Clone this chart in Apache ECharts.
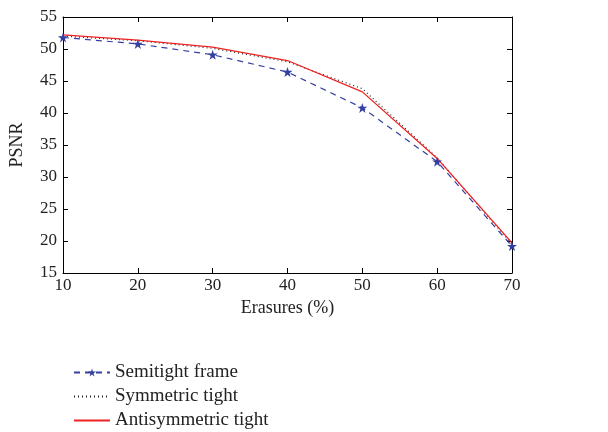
<!DOCTYPE html>
<html><head><meta charset="utf-8">
<script src="https://cdn.jsdelivr.net/npm/echarts@6/dist/echarts.min.js"></script>
<style>html,body{margin:0;padding:0;background:#fff}#c{width:608px;height:432px}</style>
</head><body><div id="c"></div>
<script>
const erasures = [10, 20, 30, 40, 50, 60, 70];
const semitight = [51.8, 50.8, 49.1, 46.4, 40.8, 32.4, 19.2];
const symmetric = [52.0, 51.3, 50.1, 48.0, 43.8, 33.0, 19.5];
const antisymmetric = [52.2, 51.4, 50.3, 48.2, 43.3, 32.9, 19.7];
const xTicks = {min: 10, max: 70, interval: 10};
const yTicks = {min: 15, max: 55, interval: 5};

const star = 'path://M50,0 L61.8,35.1 L98.9,35.1 L69,57 L80.3,92.3 L50,70.5 L19.7,92.3 L31,57 L1.1,35.1 L38.2,35.1 Z';
const font = 'Liberation Serif';
const pair = (xs, ys) => xs.map((x, i) => [x, ys[i]]);

const chart = echarts.init(document.getElementById('c'), null, {renderer: 'canvas'});
const axisCommon = {
  axisLine: {show: true, onZero: false, lineStyle: {color: '#000', width: 1}},
  axisTick: {show: true, inside: true, length: 5, lineStyle: {color: '#000'}},
  splitLine: {show: false}
};
chart.setOption({
  animation: false,
  textStyle: {fontFamily: font},
  grid: {left: 62, right: 96, top: 17, height: 256},
  xAxis: [
    Object.assign({type: 'value', position: 'bottom', min: xTicks.min, max: xTicks.max, interval: xTicks.interval,
      name: 'Erasures (%)', nameLocation: 'middle', nameGap: 24,
      nameTextStyle: {fontFamily: font, fontSize: 18, color: '#222'},
      axisLabel: {fontFamily: font, fontSize: 17, color: '#222', margin: 4}}, axisCommon),
    Object.assign({type: 'value', position: 'top', min: xTicks.min, max: xTicks.max, interval: xTicks.interval,
      axisLabel: {show: false}}, axisCommon)
  ],
  yAxis: [
    Object.assign({type: 'value', position: 'left', min: yTicks.min, max: yTicks.max, interval: yTicks.interval,
      name: 'PSNR', nameLocation: 'middle', nameGap: 37, nameRotate: 90,
      nameTextStyle: {fontFamily: font, fontSize: 18, color: '#222'},
      axisLabel: {fontFamily: font, fontSize: 17, color: '#222', margin: 6}}, axisCommon),
    Object.assign({type: 'value', position: 'right', min: yTicks.min, max: yTicks.max, interval: yTicks.interval,
      axisLabel: {show: false}}, axisCommon)
  ],
  legend: {
    orient: 'vertical', left: 73, top: 363, padding: 0, itemGap: 5, itemWidth: 36, itemHeight: 10, itemTextGap: 12,
    height: 69,
    textStyle: {fontFamily: font, fontSize: 19, color: '#222'},
    data: [
      {name: 'Semitight frame'},
      {name: 'Symmetric tight', itemStyle: {opacity: 0}},
      {name: 'Antisymmetric tight', itemStyle: {opacity: 0}}
    ]
  },
  series: [
    {name: 'Semitight frame', type: 'line', data: pair(erasures, semitight),
      lineStyle: {color: '#3340a0', width: 1.2, type: [6, 5]},
      itemStyle: {color: '#3340a0'}, symbol: star, symbolSize: 10, showSymbol: true},
    {name: 'Symmetric tight', type: 'line', data: pair(erasures, symmetric),
      lineStyle: {color: '#222', width: 1.2, type: [1, 3]},
      itemStyle: {color: '#222'}, symbol: 'none'},
    {name: 'Antisymmetric tight', type: 'line', data: pair(erasures, antisymmetric),
      lineStyle: {color: '#ee2222', width: 1.3},
      itemStyle: {color: '#ee2222'}, symbol: 'none'}
  ]
});
</script></body></html>
